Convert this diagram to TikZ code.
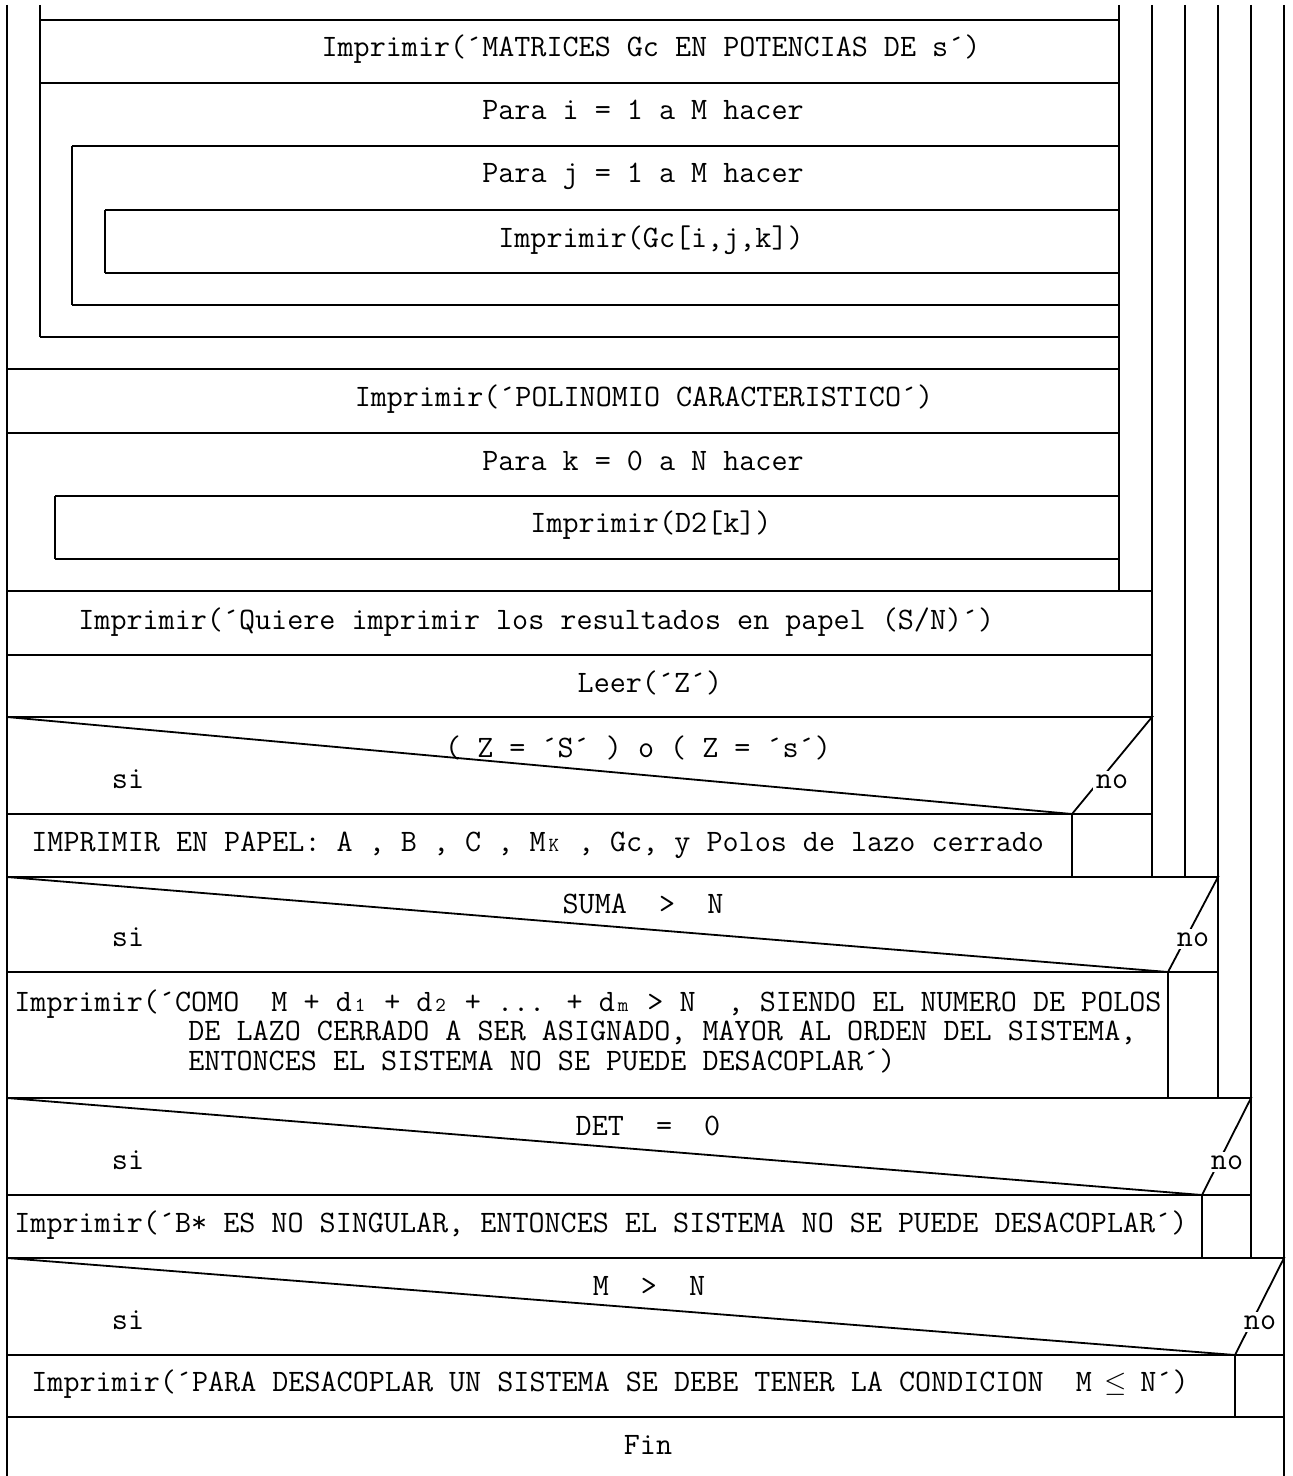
\documentclass[tikz,border=0pt]{standalone}
\usepackage{tikz}

\newcommand\sm[1]{\makebox[8.2pt]{\fontsize{10}{10}\selectfont #1}}

\begin{document}
\begin{tikzpicture}[x=0.5pt, y=-0.5pt,
    rule/.style={line width=0.9pt},
    txt/.style={font=\fontsize{15.6}{15.6}\selectfont\ttfamily, inner sep=0pt, anchor=base},
    ltxt/.style={txt, anchor=base west},
    nolabel/.style={txt, fill=white, inner sep=1.5pt}
  ]
    \useasboundingbox (0,0) rectangle (1293,1476);

    % outer bar and the columns on the right
    \draw[rule] (7,5) -- (7,1476);
    \foreach \x/\yend in {1119/591, 1152/877, 1185/877, 1218/1098, 1251/1258, 1284/1476}
      \draw[rule] (\x,5) -- (\x,\yend);

    % loops i, j and k
    \draw[rule] (40,5) -- (40,337);
    \draw[rule] (72,146) -- (72,305);
    \draw[rule] (105,210) -- (105,273);
    \draw[rule] (55,496) -- (55,559);
    \foreach \y/\xl in {20/40, 83/40, 146/72, 210/105, 273/105, 305/72, 337/40, 369/7, 433/7, 496/55, 559/55}
      \draw[rule] (\xl,\y) -- (1119,\y);
    \draw[rule] (7,591) -- (1152,591);
    \draw[rule] (7,655) -- (1152,655);

    % decisions
    \foreach \n/\yt/\yb/\xs/\xr/\yr/\xn in {1/717/814/1072/1152/877/1112, 2/877/972/1168/1218/1098/1193, 3/1098/1195/1202/1251/1258/1227, 4/1258/1355/1235/1284/1417/1260} {
      \draw[rule] (7,\yt) -- (\xr,\yt) -- (\xs,\yb) -- cycle;
      \draw[rule] (7,\yb) -- (\xr,\yb);
      \draw[rule] (\xs,\yb) -- (\xs,\yr);
      \node[txt] (si\n) at (128,\yb-26) {si};
      \node[nolabel] (no\n) at (\xn,\yb-26) {no};
    }
    \draw[rule] (7,1417) -- (1284,1417);

    \node[txt] (matrices) at (651,57) {Imprimir(´MATRICES Gc EN POTENCIAS DE s´)};
    \node[txt] (parai) at (643,120) {Para i = 1 a M hacer};
    \node[txt] (paraj) at (643,183) {Para j = 1 a M hacer};
    \node[txt] (printgc) at (651,248) {Imprimir(Gc[i,j,k])};
    \node[txt] (polinomio) at (644,406) {Imprimir(´POLINOMIO CARACTERISTICO´)};
    \node[txt] (parak) at (643,470) {Para k = 0 a N hacer};
    \node[txt] (printd) at (651,532) {Imprimir(D2[k])};
    \node[ltxt] (quiere) at (78,629) {Imprimir(´Quiere imprimir los resultados en papel (S/N)´)};
    \node[txt] (leer) at (650,692) {Leer(´Z´)};
    \node[txt] (condz) at (638,757) {(~Z~=~´S´~)~o~(~Z~=~´s´)};
    \node[ltxt] (papel) at (31,851) {IMPRIMIR EN PAPEL: A , B , C , M\sm{K} , Gc, y Polos de lazo cerrado};
    \node[txt] (suma) at (643,913) {SUMA~~>~~N};
    \node[ltxt] (comoA) at (14,1011) {Imprimir(´COMO~~M + d\sm{1} + d\sm{2} + ... + d\sm{m} > N~~, SIENDO EL NUMERO DE POLOS};
    \node[ltxt] (comoB) at (188,1040) {DE LAZO CERRADO A SER ASIGNADO, MAYOR AL ORDEN DEL SISTEMA,};
    \node[ltxt] (comoC) at (188,1070) {ENTONCES EL SISTEMA NO SE PUEDE DESACOPLAR´)};
    \node[txt] (det) at (648,1135) {DET~~=~~0};
    \node[ltxt] (singular) at (14,1232) {Imprimir(´B* ES NO SINGULAR, ENTONCES EL SISTEMA NO SE PUEDE DESACOPLAR´)};
    \node[txt] (mayor) at (649,1295) {M~~>~~N};
    \node[ltxt] (condicion) at (31,1391) {Imprimir(´PARA DESACOPLAR UN SISTEMA SE DEBE TENER LA CONDICION~~M \makebox[8.2pt]{$\leq$} N´)};
    \node[txt] (fin) at (648,1454) {Fin};
\end{tikzpicture}
\end{document}
